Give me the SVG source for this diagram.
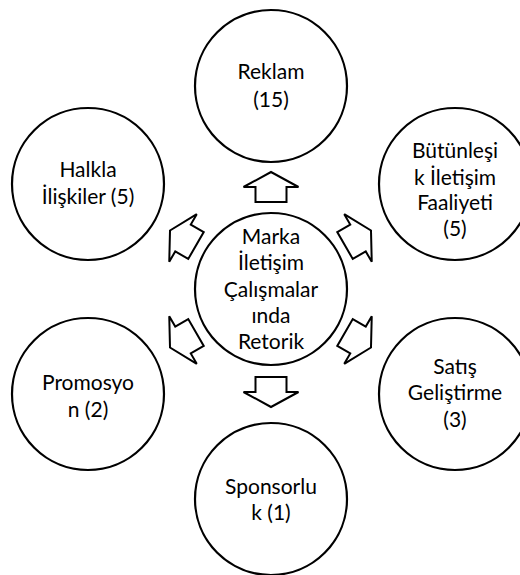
<svg xmlns="http://www.w3.org/2000/svg" xmlns:xlink="http://www.w3.org/1999/xlink" width="520" height="575" viewBox="0 0 520 575">
  <style>
    .node circle { fill: #ffffff; stroke: #000000; stroke-width: 2.2; }
    .node text { font-family: Lato, "Open Sans", "Liberation Sans", sans-serif; font-size: 21px; fill: #000000; text-anchor: middle; }
    .arrow { fill: #ffffff; stroke: #000000; stroke-width: 2; stroke-linejoin: miter; }
  </style>
  <defs>
    <!-- block arrow pointing up, centred on the origin -->
    <path id="blockArrow" class="arrow" d="M0,-15 L27.5,0 L15.5,0 L15.5,15 L-15.5,15 L-15.5,0 L-27.5,0 Z"/>
  </defs>
  <rect width="520" height="575" fill="#ffffff"/>

  <g id="connectors">
    <use xlink:href="#blockArrow" transform="translate(271,187)"/>
    <use xlink:href="#blockArrow" transform="translate(271,392) rotate(180)"/>
    <use xlink:href="#blockArrow" transform="translate(183,238) rotate(-60)"/>
    <use xlink:href="#blockArrow" transform="translate(358,238) rotate(60)"/>
    <use xlink:href="#blockArrow" transform="translate(183,340) rotate(-120)"/>
    <use xlink:href="#blockArrow" transform="translate(358,340) rotate(120)"/>
  </g>

  <g id="center" class="node">
    <circle cx="271" cy="289" r="76"/>
    <text x="271" y="244">Marka</text>
    <text x="271" y="270">İletişim</text>
    <text x="271" y="297">Çalışmalar</text>
    <text x="271" y="323">ında</text>
    <text x="271" y="349">Retorik</text>
  </g>

  <g id="reklam" class="node">
    <circle cx="271" cy="86" r="76"/>
    <text x="271" y="79">Reklam</text>
    <text x="271" y="107">(15)</text>
  </g>

  <g id="halkla" class="node">
    <circle cx="88" cy="184" r="76"/>
    <text x="88" y="177">Halkla</text>
    <text x="88" y="204">İlişkiler (5)</text>
  </g>

  <g id="butunlesik" class="node">
    <circle cx="455" cy="184" r="76"/>
    <text x="455" y="158">Bütünleşi</text>
    <text x="455" y="185">k İletişim</text>
    <text x="455" y="210">Faaliyeti</text>
    <text x="455" y="236">(5)</text>
  </g>

  <g id="promosyon" class="node">
    <circle cx="88" cy="394" r="76"/>
    <text x="88" y="390">Promosyo</text>
    <text x="88" y="417">n (2)</text>
  </g>

  <g id="satis" class="node">
    <circle cx="455" cy="394" r="76"/>
    <text x="455" y="374">Satış</text>
    <text x="455" y="400">Geliştirme</text>
    <text x="455" y="427">(3)</text>
  </g>

  <g id="sponsorluk" class="node">
    <circle cx="271" cy="499" r="76"/>
    <text x="271" y="494">Sponsorlu</text>
    <text x="271" y="520">k (1)</text>
  </g>
</svg>
